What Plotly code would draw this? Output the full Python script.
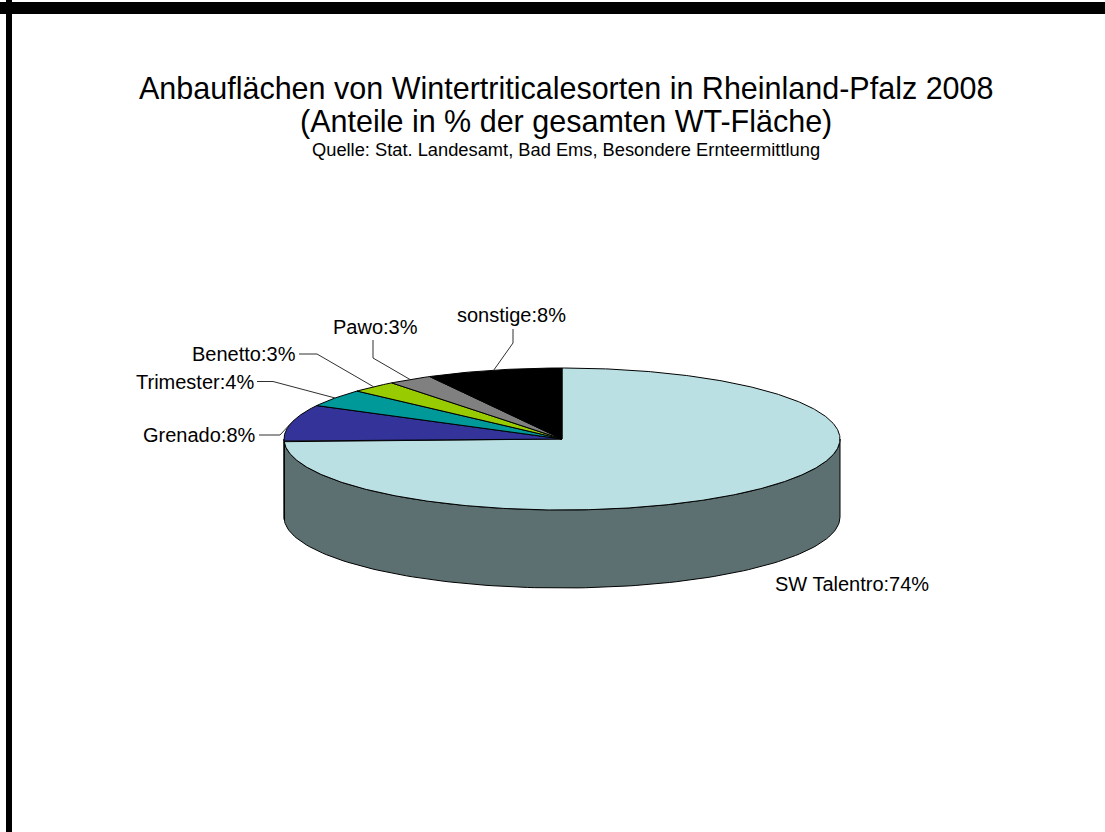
import numpy as np
import plotly.graph_objects as go

# ---------------- data ----------------
categories = ["SW Talentro", "Grenado", "Trimester", "Benetto", "Pawo", "sonstige"]
shares = [74.4, 8.4, 4.0, 2.7, 2.6, 7.9]          # % of total WT area
colors = ["#BBE0E3", "#333399", "#009999", "#99CC00", "#808080", "#000000"]

title_lines = [
    "Anbauflächen von Wintertriticalesorten in Rheinland-Pfalz 2008",
    "(Anteile in % der gesamten WT-Fläche)",
]
source_line = "Quelle: Stat. Landesamt, Bad Ems, Besondere Ernteermittlung"

# ---------------- layout constants ----------------
W, H = 1105, 832
CX, CY, RX, RY, DEPTH = 562, 439, 278, 71, 78
FONT = "Liberation Sans, Arial, sans-serif"

# label placement: (x, y, xanchor, elbow points of leader line)
label_pos = {
    "SW Talentro": (773, 584, "left", None),
    "Grenado": (258, 435, "right", [(259, 435), (280, 435)]),
    "Trimester": (256, 381.5, "right", [(257, 381.5), (273, 381.5)]),
    "Benetto": (298, 354, "right", [(299, 354), (317, 354)]),
    "Pawo": (375, 327, "center", [(373, 340), (373, 358)]),
    "sonstige": (511.5, 315, "center", [(513, 329), (513, 343)]),
}


def rim(theta_deg, dy=0.0):
    t = np.radians(theta_deg)
    return CX + RX * np.sin(t), CY - RY * np.cos(t) + dy


def darker(hexc, f=0.5):
    r, g, b = int(hexc[1:3], 16), int(hexc[3:5], 16), int(hexc[5:7], 16)
    return "rgb(%d,%d,%d)" % (r * f, g * f, b * f)


vals = np.array(shares, dtype=float)
cum = np.concatenate([[0], np.cumsum(vals)]) / vals.sum() * 360.0
starts, ends = cum[:-1], cum[1:]

fig = go.Figure()

# side walls (visible front half: 90..270 deg clockwise from top)
for c, a, b, col in zip(categories, starts, ends, colors):
    lo, hi = max(a, 90.0), min(b, 270.0)
    if hi <= lo:
        continue
    th = np.linspace(lo, hi, 120)
    xt, yt = rim(th)
    xb, yb = rim(th[::-1], DEPTH)
    fig.add_trace(go.Scatter(
        x=np.concatenate([xt, xb, xt[:1]]), y=np.concatenate([yt, yb, yt[:1]]),
        mode="lines", fill="toself", fillcolor=darker(col),
        line=dict(color="black", width=1), hoverinfo="skip", showlegend=False))

# top faces
for c, a, b, col in zip(categories, starts, ends, colors):
    th = np.linspace(a, b, max(int((b - a) * 2), 8))
    xa, ya = rim(th)
    fig.add_trace(go.Scatter(
        x=np.concatenate([[CX], xa, [CX]]), y=np.concatenate([[CY], ya, [CY]]),
        mode="lines", fill="toself", fillcolor=col,
        line=dict(color="black", width=1), hoverinfo="skip", showlegend=False))

# labels and leader lines
annotations = []
for c, a, b, v in zip(categories, starts, ends, vals):
    lx, ly, xa, elbow = label_pos[c]
    pct = int(round(v / vals.sum() * 100))
    annotations.append(dict(
        x=lx, y=ly, xref="x", yref="y", text="%s:%d%%" % (c, pct), showarrow=False,
        xanchor=xa, yanchor="middle", font=dict(family=FONT, size=20, color="black")))
    if elbow:
        mx, my = rim((a + b) / 2.0)
        fig.add_trace(go.Scatter(
            x=[p[0] for p in elbow] + [mx], y=[p[1] for p in elbow] + [my],
            mode="lines", line=dict(color="#303030", width=1),
            hoverinfo="skip", showlegend=False))

# titles
annotations.append(dict(x=566, y=88, xref="x", yref="y", text=title_lines[0], showarrow=False,
                        xanchor="center", yanchor="middle", font=dict(family=FONT, size=30.5, color="black")))
annotations.append(dict(x=566, y=121.5, xref="x", yref="y", text=title_lines[1], showarrow=False,
                        xanchor="center", yanchor="middle", font=dict(family=FONT, size=30.5, color="black")))
annotations.append(dict(x=566, y=149, xref="x", yref="y", text=source_line, showarrow=False,
                        xanchor="center", yanchor="middle", font=dict(family=FONT, size=18.3, color="black")))

# frame: thick bar along the top and the left edge
shapes = [
    dict(type="rect", xref="paper", yref="paper", x0=0, x1=1, y0=1 - 14.0 / H, y1=1 - 2.0 / H,
         fillcolor="black", line=dict(width=0), layer="above"),
    dict(type="rect", xref="paper", yref="paper", x0=6.0 / W, x1=12.0 / W, y0=0, y1=1,
         fillcolor="black", line=dict(width=0), layer="above"),
]

axis_off = dict(visible=False, showline=False, zeroline=False, showgrid=False,
                showticklabels=False, ticks="", fixedrange=True)
fig.update_layout(
    width=W, height=H, autosize=False,
    margin=dict(l=0, r=0, t=0, b=0, pad=0),
    paper_bgcolor="white", plot_bgcolor="white",
    xaxis=dict(range=[0, W], **axis_off),
    yaxis=dict(range=[H, 0], **axis_off),
    annotations=annotations, shapes=shapes,
    showlegend=False,
)

fig.write_html("out.html", config={"displayModeBar": False},
               post_script="document.documentElement.style.margin='0';document.body.style.margin='0';"
                           "document.documentElement.style.overflow='hidden';document.body.style.overflow='hidden';")
